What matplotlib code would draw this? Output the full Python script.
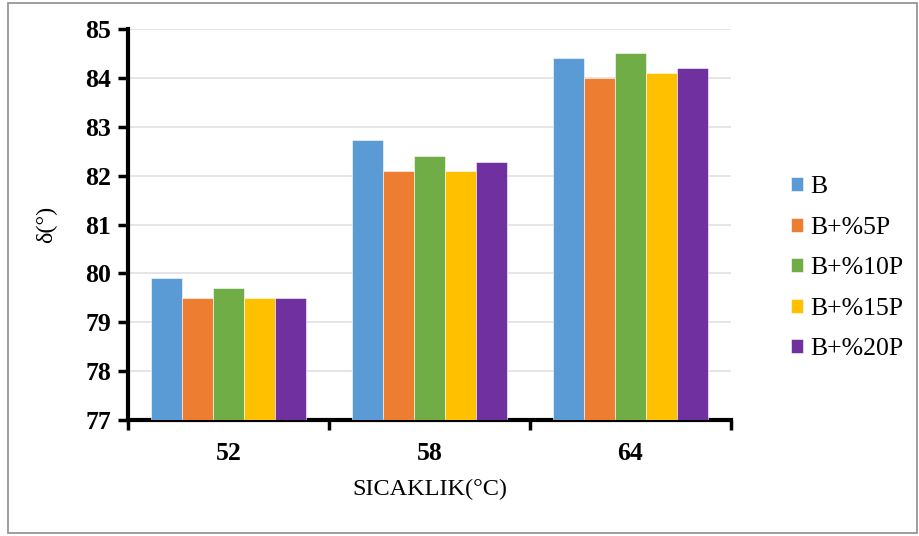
import matplotlib
matplotlib.use("Agg")
import matplotlib.pyplot as plt
import numpy as np
from matplotlib.patches import Rectangle
from matplotlib.ticker import FixedLocator

categories = ["52", "58", "64"]
series_names = ["B", "B+%5P", "B+%10P", "B+%15P", "B+%20P"]
values_B = [79.9, 82.73, 84.4]
values_5P = [79.5, 82.1, 84.0]
values_10P = [79.7, 82.4, 84.5]
values_15P = [79.5, 82.1, 84.1]
values_20P = [79.5, 82.28, 84.2]
series_values = [values_B, values_5P, values_10P, values_15P, values_20P]
colors = ["#5B9BD5", "#ED7D31", "#70AD47", "#FFC000", "#7030A0"]
yticks = [77, 78, 79, 80, 81, 82, 83, 84, 85]

plt.rcParams['font.family'] = ['Liberation Serif', 'DejaVu Serif']

fig = plt.figure(figsize=(9.19, 5.36), dpi=100)
fig.patches.append(Rectangle((8/919, 3/536), 1 - 10/919, 1 - 6/536, transform=fig.transFigure,
                             fill=False, edgecolor="#8c8c8c", linewidth=1.2))
ax = fig.add_axes([128/919, 1 - 420/536, (731-128)/919, (420-29)/536])

x = np.arange(len(categories))
n = len(series_names)
bw = 0.154
for i, (name, vals, c) in enumerate(zip(series_names, series_values, colors)):
    offs = (i - (n - 1) / 2) * bw
    ax.bar(x + offs, np.array(vals) - 77, bottom=77, width=bw, color=c, label=name,
           edgecolor="white", linewidth=0.4, zorder=3)

ax.set_xlim(-0.5, 2.5)
ax.set_ylim(77, 85)
ax.set_yticks(yticks)
ax.set_yticklabels([str(t) for t in yticks], fontweight="bold", fontsize=18.5)
ax.set_xticks(x)
ax.set_xticklabels(categories, fontweight="bold", fontsize=18.5)
ax.tick_params(axis="x", which="major", length=0, pad=16)
ax.xaxis.set_minor_locator(FixedLocator([-0.5, 0.5, 1.5, 2.5]))
ax.tick_params(axis="x", which="minor", length=7, width=2.5, direction="out")
ax.tick_params(axis="y", which="major", length=7, width=2.5, direction="out", pad=5)
ax.grid(axis="y", color="#e3e3e3", linewidth=1.3, zorder=0)
for s in ["top", "right"]:
    ax.spines[s].set_visible(False)
for s in ["left", "bottom"]:
    ax.spines[s].set_linewidth(3)
    ax.spines[s].set_color("black")

ax.set_xlabel("SICAKLIK(°C)", fontsize=17.5, labelpad=10)
ax.set_ylabel("δ(°)", fontsize=17.5, labelpad=20)

handles, labels = ax.get_legend_handles_labels()
leg = fig.legend(handles, labels, loc="upper left", bbox_to_anchor=(781/919, 1 - 166/536),
                 frameon=False, fontsize=18.5, handlelength=0.45, handleheight=0.45,
                 handletextpad=0.3, labelspacing=0.72, borderaxespad=0)

fig.savefig("out.png", dpi=100)
